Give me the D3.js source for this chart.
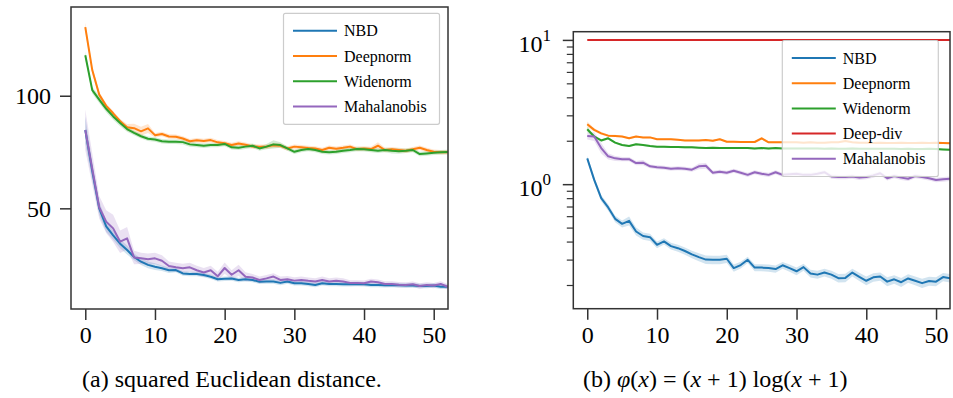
<!DOCTYPE html>
<html>
<head>
<meta charset="utf-8">
<script src="https://cdn.jsdelivr.net/npm/d3@7"></script>
<style>
  body { margin: 0; background: #fff; }
  svg { display: block; font-family: 'Liberation Serif', 'Times New Roman', serif; }
</style>
</head>
<body>
<svg id="chart" width="953" height="398"></svg>
<script>
// epochs 0..52
const epochs = d3.range(0, 53);
const xTicks = [0, 10, 20, 30, 40, 50];

// (a) squared Euclidean distance
const sqNBD = [84.8, 66.5, 50.0, 42.0, 38.0, 34.3, 31.5, 28.4, 26.3, 24.9, 24.1, 23.4, 22.5, 22.6, 21.1, 20.8, 20.8, 20.4, 19.6, 18.5,
  18.7, 18.8, 18.2, 18.5, 18.2, 17.4, 17.5, 17.5, 16.9, 17.5, 16.7, 16.7, 16.4, 16.0, 16.7, 16.4, 16.4, 16.3, 16.3, 16.4,
  16.3, 16.0, 16.0, 15.8, 16.0, 15.8, 15.7, 15.7, 15.5, 15.5, 15.7, 15.2, 15.2];
const sqNBDsd = [6, 4, 3, 2.5, 2, 2, 2, 1.5, 1.5, 1.5, 1.5, 1.2, 1.2, 1, 1, 1, 1, 1, 1, 1,
  1, 1, 1, 1, 1, 1, 1, 1, 1, 1, 1, 1, 1, 1, 1, 1, 1, 1, 1, 1,
  1, 1, 1, 1, 1, 1, 1, 1, 1, 1, 1, 1, 1];
const sqDeep = [130.5, 111.4, 100.5, 95.5, 92.2, 88.7, 86.0, 85.6, 84.2, 85.5, 82.5, 83.0, 81.9, 81.8, 81.0, 79.8, 80.2, 79.9, 80.3, 79.3,
  78.9, 78.1, 78.8, 78.2, 77.5, 77.4, 77.4, 78.0, 77.8, 76.6, 77.4, 77.1, 76.8, 76.6, 75.9, 76.9, 76.5, 76.9, 77.4, 76.3,
  76.6, 76.3, 77.8, 75.9, 76.2, 75.9, 75.6, 76.2, 76.9, 75.9, 75.1, 74.9, 74.9];
const sqDeepSd = [2, 1.5, 1.2, 1, 1, 1, 1.5, 2, 2, 2, 1, 1, 1, 1, 1, 1, 1, 1, 1, 1,
  1, 1, 1, 1, 1, 1, 1, 1, 1, 1, 1, 1, 1, 1, 1, 1, 1, 1, 1, 1,
  1, 1, 1.5, 1, 1, 1, 1, 1, 1, 1, 1, 1, 1];
const sqWide = [118.0, 102.5, 98.3, 94.2, 90.8, 87.9, 85.2, 83.5, 82.0, 80.9, 80.6, 79.8, 79.6, 79.6, 79.4, 78.4, 78.1, 77.8, 78.1, 78.1,
  78.6, 77.1, 76.9, 77.4, 77.8, 76.6, 77.4, 78.4, 78.1, 76.6, 75.1, 75.9, 76.3, 75.9, 75.1, 74.9, 75.1, 75.6, 75.9, 76.3,
  76.2, 75.9, 75.6, 75.9, 75.6, 75.4, 75.6, 75.9, 74.1, 74.4, 74.7, 74.9, 75.0];
const sqWideSd = [1.5, 1.5, 1.5, 1.5, 1.5, 1.5, 1.2, 1, 1, 1, 1, 1, 1, 1, 1, 1, 1, 1, 1, 1,
  1, 1, 1, 1, 1, 1, 1.2, 1.8, 1.2, 1, 1, 1, 1, 1, 1, 1, 1, 1, 1, 1,
  1, 1, 1, 1, 1.2, 1.2, 1, 1, 1, 1, 1, 1, 1];
const sqMaha = [84.8, 67.5, 50.5, 44.1, 41.1, 35.2, 36.7, 28.2, 27.8, 27.4, 27.8, 26.7, 24.4, 23.8, 23.4, 23.8, 22.5, 21.5, 22.5, 19.8,
  23.5, 20.5, 22.5, 19.6, 19.3, 18.2, 18.9, 19.7, 18.2, 18.5, 17.9, 18.2, 17.8, 17.5, 18.2, 17.5, 17.8, 17.5, 16.9, 16.9,
  16.7, 17.5, 17.2, 16.4, 16.4, 16.1, 16.0, 16.3, 15.5, 16.0, 15.7, 16.4, 15.2];
const sqMahaSd = [9, 7, 5, 5, 6, 5, 5, 3, 2.5, 2.5, 2.5, 2.5, 2, 2, 2, 2, 2, 2, 2, 2,
  2.5, 2, 2.5, 2, 1.5, 1.5, 1.5, 1.5, 1.5, 1.5, 1.5, 1.5, 1.5, 1.5, 1.5, 1.5, 1.5, 1.5, 1.2, 1.2,
  1.2, 1.2, 1.2, 1.2, 1.2, 1.2, 1.2, 1.2, 1.2, 1.2, 1.2, 1.2, 1.2];

// (b) phi(x) = (x+1) log(x+1)
const phNBD = [1.51, 1.07, 0.80, 0.69, 0.575, 0.531, 0.557, 0.470, 0.437, 0.429, 0.380, 0.401, 0.372, 0.360, 0.344, 0.326, 0.312, 0.300, 0.299, 0.299,
  0.304, 0.262, 0.275, 0.299, 0.264, 0.264, 0.262, 0.258, 0.274, 0.262, 0.249, 0.266, 0.240, 0.236, 0.244, 0.236, 0.223, 0.224, 0.244, 0.228,
  0.214, 0.226, 0.229, 0.211, 0.219, 0.209, 0.222, 0.214, 0.206, 0.213, 0.211, 0.227, 0.223];
const phNBDsd = [0.06, 0.05, 0.04, 0.035, 0.03, 0.03, 0.04, 0.03, 0.025, 0.025, 0.02, 0.02, 0.02, 0.02, 0.02, 0.02, 0.02, 0.02, 0.02, 0.02,
  0.02, 0.015, 0.015, 0.015, 0.015, 0.015, 0.015, 0.015, 0.015, 0.015, 0.015, 0.015, 0.015, 0.015, 0.015, 0.015, 0.015, 0.015, 0.015, 0.015,
  0.015, 0.015, 0.015, 0.015, 0.015, 0.015, 0.015, 0.015, 0.015, 0.015, 0.015, 0.015, 0.015];
const phDeep = [2.60, 2.38, 2.25, 2.17, 2.16, 2.14, 2.08, 2.14, 2.11, 2.11, 2.05, 2.05, 2.05, 2.03, 2.01, 2.01, 2.01, 2.02, 2.00, 2.05,
  1.97, 1.97, 1.96, 1.96, 1.96, 2.08, 1.95, 1.95, 1.95, 1.95, 1.95, 1.94, 1.95, 1.94, 1.94, 1.95, 1.95, 1.99, 1.95, 1.94,
  1.94, 1.93, 1.94, 1.93, 1.93, 1.94, 1.93, 1.93, 1.94, 1.93, 1.94, 1.93, 1.92];
const phDeepSd = [0.12, 0.06, 0.05, 0.04, 0.04, 0.03, 0.03, 0.03, 0.03, 0.03, 0.03, 0.03, 0.03, 0.03, 0.03, 0.03, 0.03, 0.03, 0.03, 0.03,
  0.03, 0.03, 0.03, 0.03, 0.03, 0.04, 0.03, 0.03, 0.03, 0.03, 0.03, 0.03, 0.03, 0.03, 0.03, 0.03, 0.03, 0.03, 0.03, 0.03,
  0.03, 0.03, 0.03, 0.03, 0.03, 0.03, 0.03, 0.03, 0.03, 0.03, 0.03, 0.03, 0.03];
const phWide = [2.40, 2.14, 2.01, 2.08, 1.94, 1.87, 1.84, 1.89, 1.87, 1.84, 1.82, 1.82, 1.81, 1.81, 1.80, 1.80, 1.79, 1.78, 1.79, 1.78,
  1.78, 1.78, 1.78, 1.78, 1.77, 1.78, 1.77, 1.78, 1.77, 1.77, 1.77, 1.77, 1.77, 1.77, 1.76, 1.77, 1.76, 1.76, 1.77, 1.76,
  1.76, 1.76, 1.76, 1.76, 1.76, 1.75, 1.76, 1.75, 1.75, 1.76, 1.75, 1.74, 1.73];
const phWideSd = [0.10, 0.05, 0.04, 0.04, 0.03, 0.03, 0.03, 0.03, 0.03, 0.03, 0.03, 0.03, 0.03, 0.03, 0.03, 0.03, 0.03, 0.03, 0.03, 0.03,
  0.03, 0.03, 0.03, 0.03, 0.03, 0.03, 0.03, 0.03, 0.03, 0.03, 0.03, 0.03, 0.03, 0.03, 0.03, 0.03, 0.03, 0.03, 0.03, 0.03,
  0.03, 0.03, 0.03, 0.03, 0.03, 0.03, 0.03, 0.03, 0.03, 0.03, 0.03, 0.03, 0.03];
const phDiv = [10, 10, 10, 10, 10, 10, 10, 10, 10, 10, 10, 10, 10, 10, 10, 10, 10, 10, 10, 10,
  10, 10, 10, 10, 10, 10, 10, 10, 10, 10, 10, 10, 10, 10, 10, 10, 10, 10, 10, 10,
  10, 10, 10, 10, 10, 10, 10, 10, 10, 10, 10, 10, 10];
const phMaha = [2.16, 2.14, 1.78, 1.56, 1.51, 1.49, 1.49, 1.40, 1.41, 1.33, 1.31, 1.30, 1.28, 1.29, 1.28, 1.26, 1.33, 1.34, 1.20, 1.22,
  1.20, 1.24, 1.20, 1.16, 1.21, 1.18, 1.16, 1.21, 1.16, 1.17, 1.18, 1.16, 1.16, 1.18, 1.21, 1.13, 1.12, 1.12, 1.13, 1.11,
  1.12, 1.15, 1.19, 1.10, 1.14, 1.11, 1.09, 1.14, 1.12, 1.10, 1.07, 1.08, 1.09];
const phMahaSd = [0.12, 0.15, 0.15, 0.08, 0.06, 0.05, 0.05, 0.05, 0.06, 0.04, 0.04, 0.04, 0.04, 0.04, 0.04, 0.04, 0.06, 0.06, 0.04, 0.04,
  0.04, 0.04, 0.04, 0.04, 0.04, 0.04, 0.04, 0.04, 0.04, 0.04, 0.04, 0.04, 0.04, 0.04, 0.04, 0.04, 0.04, 0.04, 0.04, 0.04,
  0.04, 0.04, 0.04, 0.04, 0.04, 0.04, 0.04, 0.04, 0.04, 0.04, 0.04, 0.04, 0.04];

const COLORS = { NBD: "#1f77b4", Deepnorm: "#ff7f0e", Widenorm: "#2ca02c", "Deep-div": "#d62728", Mahalanobis: "#9467bd" };

const seriesA = [
  { name: "NBD", values: sqNBD, sd: sqNBDsd },
  { name: "Deepnorm", values: sqDeep, sd: sqDeepSd },
  { name: "Widenorm", values: sqWide, sd: sqWideSd },
  { name: "Mahalanobis", values: sqMaha, sd: sqMahaSd },
];
const seriesB = [
  { name: "NBD", values: phNBD, sd: phNBDsd },
  { name: "Deepnorm", values: phDeep, sd: phDeepSd },
  { name: "Widenorm", values: phWide, sd: phWideSd },
  { name: "Deep-div", values: phDiv, sd: null },
  { name: "Mahalanobis", values: phMaha, sd: phMahaSd },
];

const svg = d3.select("#chart");
const INK = "#333";
const SERIF = "'Liberation Serif', 'Times New Roman', serif";

function drawPanel(cfg) {
  const { id, left, right, top, bottom, xDomain, y, series, legend } = cfg;
  const x = d3.scaleLinear().domain(xDomain).range([left, right]);

  svg.append("clipPath").attr("id", "clip-" + id)
    .append("rect").attr("x", left).attr("y", top).attr("width", right - left).attr("height", bottom - top);

  const plot = svg.append("g").attr("clip-path", `url(#clip-${id})`);

  // bands first, then lines
  series.forEach(s => {
    if (!s.sd) return;
    const area = d3.area()
      .x((d, i) => x(epochs[i]))
      .y0((d, i) => y(d - s.sd[i]))
      .y1((d, i) => y(d + s.sd[i]));
    plot.append("path").datum(s.values)
      .attr("fill", COLORS[s.name]).attr("fill-opacity", 0.2)
      .attr("d", area);
  });
  series.forEach(s => {
    const line = d3.line().x((d, i) => x(epochs[i])).y(d => y(d));
    plot.append("path").datum(s.values)
      .attr("fill", "none").attr("stroke", COLORS[s.name])
      .attr("stroke-width", 2).attr("stroke-linejoin", "round")
      .attr("d", line);
  });

  // x axis
  const gx = svg.append("g").attr("transform", `translate(0,${bottom})`)
    .call(d3.axisBottom(x).tickValues(xTicks).tickSize(11).tickPadding(6).tickFormat(d3.format("d")));
  gx.attr("font-family", SERIF);
  gx.select(".domain").remove();
  gx.selectAll("line").attr("stroke", INK).attr("stroke-width", 1.5);
  gx.selectAll("text").attr("fill", "#000").attr("font-size", 24).style("font-family", SERIF);

  cfg.yAxis();

  // legend
  const lg = svg.append("g");
  lg.append("rect")
    .attr("x", legend.x).attr("y", legend.y).attr("width", legend.w).attr("height", legend.h)
    .attr("rx", 2).attr("fill", "#fff").attr("fill-opacity", 0.8)
    .attr("stroke", "#ccc").attr("stroke-width", 1.2);
  series.forEach((s, i) => {
    const yy = legend.y + 17.5 + i * 25.2;
    lg.append("line").attr("x1", legend.x + 9.5).attr("x2", legend.x + 53.5)
      .attr("y1", yy).attr("y2", yy)
      .attr("stroke", COLORS[s.name]).attr("stroke-width", 2);
    lg.append("text").attr("x", legend.x + 60.5).attr("y", yy + 5.5)
      .attr("font-size", 16).attr("fill", "#000").style("font-family", SERIF).text(s.name);
  });

  // frame
  svg.append("rect").attr("x", left).attr("y", top).attr("width", right - left).attr("height", bottom - top)
    .attr("fill", "none").attr("stroke", INK).attr("stroke-width", 1.5);
}

// panel (a)
const yA = d3.scaleLinear().domain([5.3, 139.4]).range([309, 7]);
drawPanel({
  id: "a", left: 71, right: 448, top: 7, bottom: 309, xDomain: [-2.05, 52.05], y: yA, series: seriesA,
  legend: { x: 283.5, y: 13.3, w: 156, h: 111 },
  yAxis: () => {
    const gy = svg.append("g").attr("transform", "translate(71,0)")
      .call(d3.axisLeft(yA).tickValues([50, 100]).tickSize(11).tickPadding(9));
    gy.attr("font-family", SERIF);
    gy.select(".domain").remove();
    gy.selectAll("line").attr("stroke", INK).attr("stroke-width", 1.5);
    gy.selectAll("text").attr("fill", "#000").attr("font-size", 24).style("font-family", SERIF);
  }
});

// panel (b), log y
const yB = d3.scaleLog().domain([0.137, 11.4]).range([308.7, 31.7]);
drawPanel({
  id: "b", left: 573.3, right: 950, top: 31.7, bottom: 308.7, xDomain: [-2.0, 52.0], y: yB, series: seriesB,
  legend: { x: 782.3, y: 40.5, w: 156, h: 136 },
  yAxis: () => {
    const minor = [0.2, 0.3, 0.4, 0.5, 0.6, 0.7, 0.8, 0.9, 2, 3, 4, 5, 6, 7, 8, 9];
    const gm = svg.append("g").attr("transform", "translate(573.3,0)")
      .call(d3.axisLeft(yB).tickValues(minor).tickSize(6.5).tickFormat(() => ""));
    gm.select(".domain").remove();
    gm.selectAll("line").attr("stroke", INK).attr("stroke-width", 1.2);
    const gy = svg.append("g").attr("transform", "translate(573.3,0)")
      .call(d3.axisLeft(yB).tickValues([1, 10]).tickSize(10.5).tickFormat(() => ""));
    gy.select(".domain").remove();
    gy.selectAll("line").attr("stroke", INK).attr("stroke-width", 1.5);
    [[1, "0"], [10, "1"]].forEach(([v, e]) => {
      const t = svg.append("text").attr("x", 551).attr("y", yB(v) + 12)
        .attr("text-anchor", "end").attr("font-size", 24).attr("fill", "#000").style("font-family", SERIF);
      t.append("tspan").text("10");
      t.append("tspan").attr("dy", -11).attr("font-size", 17).text(e);
    });
  }
});

// captions
const capA = svg.append("text").attr("x", 82).attr("y", 387).attr("font-size", 24)
  .attr("fill", "#000").style("font-family", SERIF);
capA.text("(a) squared Euclidean distance.");

const capB = svg.append("text").attr("x", 583).attr("y", 387).attr("font-size", 24)
  .attr("fill", "#000").style("font-family", SERIF);
[["(b) ", false], ["φ", true], ["(", false], ["x", true], [") = (", false], ["x", true],
 [" + 1) log(", false], ["x", true], [" + 1)", false]].forEach(([s, it]) => {
  capB.append("tspan").attr("font-style", it ? "italic" : "normal").text(s);
});
</script>
</body>
</html>
